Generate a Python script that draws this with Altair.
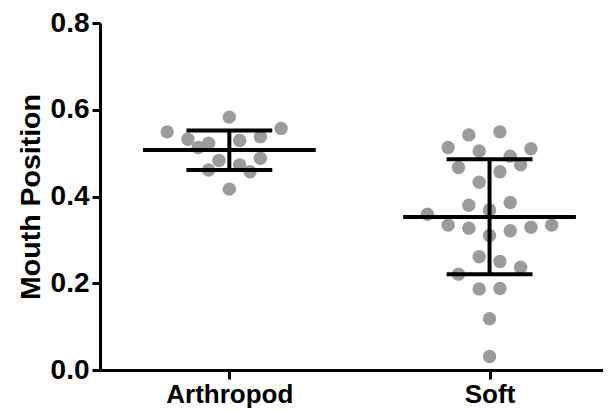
import altair as alt
import pandas as pd

groups = ["Arthropod", "Soft"]

arthropod_values = [0.583, 0.549, 0.557, 0.532, 0.529, 0.538, 0.513, 0.523,
                    0.483, 0.488, 0.473, 0.461, 0.457, 0.417]
arthropod_slots = [0, -6, 5, -4, 1, 3, -3, -2, -1, 3, 1, -2, 2, 0]

soft_values = [0.542, 0.549, 0.513, 0.505, 0.510, 0.493, 0.467, 0.473, 0.457,
               0.433, 0.380, 0.386, 0.369, 0.359, 0.334, 0.327, 0.310, 0.321,
               0.329, 0.334, 0.261, 0.250, 0.237, 0.221, 0.187, 0.188, 0.118,
               0.031]
soft_slots = [-2, 1, -4, -1, 4, 2, -3, 3, 1, -1, -2, 2, 0, -6, -4, -2, 0, 2,
              4, 6, -1, 1, 3, -3, -1, 1, 0, 0]

means = [0.507, 0.353]
sd_low = [0.461, 0.221]
sd_high = [0.552, 0.486]
y_ticks = [0.0, 0.2, 0.4, 0.6, 0.8]

SLOT = 0.0398
MEAN_HALF = 0.332
CAP_HALF = 0.165

pts = pd.DataFrame({
    "group": ["Arthropod"] * len(arthropod_values) + ["Soft"] * len(soft_values),
    "gi": [1] * len(arthropod_values) + [2] * len(soft_values),
    "slot": arthropod_slots + soft_slots,
    "value": arthropod_values + soft_values,
})
pts["xpos"] = pts["gi"] + pts["slot"] * SLOT

stats = pd.DataFrame({
    "group": groups,
    "gi": [1, 2],
    "mean": means,
    "low": sd_low,
    "high": sd_high,
})
stats["m0"] = stats["gi"] - MEAN_HALF
stats["m1"] = stats["gi"] + MEAN_HALF
stats["c0"] = stats["gi"] - CAP_HALF
stats["c1"] = stats["gi"] + CAP_HALF

FONT = "Liberation Sans"

xscale = alt.Scale(domain=[0.503, 2.436], nice=False, zero=False)
yscale = alt.Scale(domain=[0, 0.8], nice=False, zero=False)

xaxis = alt.Axis(values=[1, 2],
                 labelExpr="datum.value == 1 ? 'Arthropod' : 'Soft'",
                 grid=False, domainWidth=3, domainColor="black",
                 tickWidth=3, tickColor="black", tickSize=9,
                 labelFont=FONT, labelFontWeight="bold", labelFontSize=26,
                 labelColor="black", labelPadding=2, title=None)
yaxis = alt.Axis(values=y_ticks, format=".1f", grid=False,
                 domainWidth=3, domainColor="black",
                 tickWidth=3, tickColor="black", tickSize=8,
                 labelFont=FONT, labelFontWeight="bold", labelFontSize=28,
                 labelColor="black", labelPadding=3,
                 title="Mouth Position", titleFont=FONT, titleFontWeight="bold",
                 titleFontSize=28.5, titleColor="black", titlePadding=5)

dots = alt.Chart(pts).mark_circle(size=180, color="#9b9b9b", opacity=1).encode(
    x=alt.X("xpos:Q", scale=xscale, axis=xaxis),
    y=alt.Y("value:Q", scale=yscale, axis=yaxis),
)

mean_rule = alt.Chart(stats).mark_rule(color="black", strokeWidth=4).encode(
    x="m0:Q", x2="m1:Q", y="mean:Q")
cap_hi = alt.Chart(stats).mark_rule(color="black", strokeWidth=4).encode(
    x="c0:Q", x2="c1:Q", y="high:Q")
cap_lo = alt.Chart(stats).mark_rule(color="black", strokeWidth=4).encode(
    x="c0:Q", x2="c1:Q", y="low:Q")
vert = alt.Chart(stats).mark_rule(color="black", strokeWidth=4).encode(
    x="gi:Q", y="low:Q", y2="high:Q")

chart = alt.layer(dots, mean_rule, cap_hi, cap_lo, vert).properties(
    width=503, height=347,
    autosize=alt.AutoSizeParams(type="none"),
    padding={"left": 92, "top": 15, "right": 0, "bottom": 40},
    background="white",
).configure_view(stroke=None)

chart.save("out.html", embed_options={"renderer": "svg", "actions": False})
